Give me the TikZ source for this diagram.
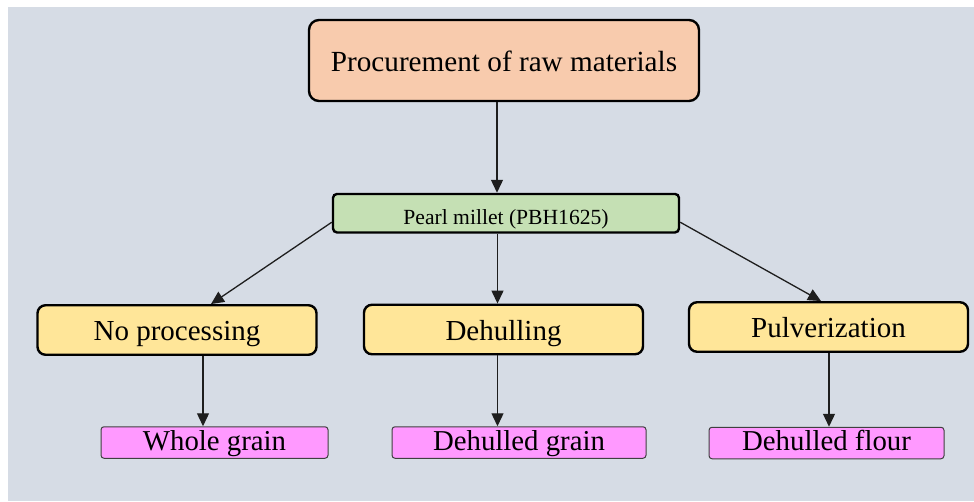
\documentclass[tikz,border=0pt]{standalone}
\usepackage{fontspec}
\setmainfont{Liberation Serif}
\usetikzlibrary{arrows.meta}
\definecolor{bgc}{HTML}{D6DCE5}
\definecolor{topc}{HTML}{F8CBAD}
\definecolor{greenc}{HTML}{C5E0B4}
\definecolor{yelc}{HTML}{FFE699}
\definecolor{pinkc}{HTML}{FF99FF}
\definecolor{linec}{HTML}{1E1E1E}
\tikzset{
  box/.style={draw=black, line width=2.4pt, inner sep=0pt, text depth=0pt, align=center},
  topbox/.style={box, fill=topc, rounded corners=10pt, minimum width=390pt, minimum height=81pt, text height=21pt, font=\fontsize{29.2}{31}\selectfont},
  greenbox/.style={box, fill=greenc, rounded corners=4pt, minimum width=346pt, minimum height=38.5pt, text height=21.6pt, font=\fontsize{21.6}{23}\selectfont},
  midbox/.style={box, fill=yelc, rounded corners=8pt, minimum width=279pt, minimum height=49.5pt, text height=21.6pt, font=\fontsize{29}{31}\selectfont},
  endbox/.style={draw=black!75, line width=1pt, fill=pinkc, rounded corners=3pt, inner sep=0pt, text depth=0pt, minimum height=31.5pt, text height=15pt, font=\fontsize{28.8}{30}\selectfont},
  arr/.style={draw=linec, line width=1.3pt, -{Triangle[width=12pt,length=13pt]}}
}
\begin{document}
\begin{tikzpicture}[x=1pt,y=-1pt]
\useasboundingbox (0,0) rectangle (974,501);
\fill[white] (0,0) rectangle (974,501);
\fill[bgc] (8,7) rectangle (974,501);
\node[topbox] (top) at (504,60.5) {Procurement of raw materials};
\node[greenbox] (pearl) at (506,213.2) {Pearl millet (PBH1625)};
\node[midbox] (nop) at (177,330) {No processing};
\node[midbox] (deh) at (503.5,329.5) {Dehulling};
\node[midbox] (pul) at (828.5,327) {Pulverization};
\node[endbox, minimum width=227pt] (wg) at (214.5,442.5) {Whole grain};
\node[endbox, minimum width=254pt] (dg) at (519,442.5) {Dehulled grain};
\node[endbox, minimum width=235pt] (df) at (826.5,443) {Dehulled flour};
\draw[arr] ([xshift=-7pt]top.south) -- ([xshift=-9pt]pearl.north);
\draw[arr] ([yshift=-9pt]pearl.west) -- ([xshift=34pt]nop.north);
\draw[arr] ([xshift=-8.5pt]pearl.south) -- ([xshift=-6pt]deh.north);
\draw[arr] ([yshift=-9pt]pearl.east) -- ([xshift=-7.5pt]pul.north);
\draw[arr] ([xshift=26pt]nop.south) -- ([xshift=-11.5pt]wg.north);
\draw[arr] ([xshift=-6pt]deh.south) -- ([xshift=-21.5pt]dg.north);
\draw[arr] ([xshift=0.5pt]pul.south) -- ([xshift=2.5pt]df.north);
\end{tikzpicture}
\end{document}
